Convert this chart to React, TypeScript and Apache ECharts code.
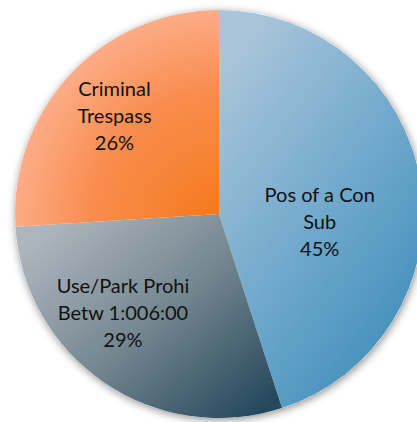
import React, { useEffect, useRef } from "react";
import * as echarts from "echarts";

const categories = ["Pos of a Con Sub", "Use/Park Prohi Betw 1:006:00", "Criminal Trespass"];
const labelLines = ["Pos of a Con\nSub", "Use/Park Prohi\nBetw 1:006:00", "Criminal\nTrespass"];
const values = [45, 29, 26];

const fills = [
  {
    type: "linear", x: 0.2, y: 0, x2: 0.9, y2: 1,
    colorStops: [
      { offset: 0, color: "#aac5d9" },
      { offset: 0.5, color: "#6fa8cc" },
      { offset: 1, color: "#3789b6" },
    ],
  },
  {
    type: "linear", x: 0, y: 0.2, x2: 0.9, y2: 1,
    colorStops: [
      { offset: 0, color: "#aeb6bd" },
      { offset: 0.5, color: "#748690" },
      { offset: 1, color: "#25475c" },
    ],
  },
  {
    type: "radial", x: 1, y: 1, r: 1.15,
    colorStops: [
      { offset: 0, color: "#f47818" },
      { offset: 0.55, color: "#f98d4f" },
      { offset: 1, color: "#fdb89c" },
    ],
  },
];

const labelShift = [
  [-3, 23],
  [-37, 11],
  [-28, -27],
];

export default function App() {
  const ref = useRef<HTMLDivElement>(null);
  useEffect(() => {
    const chart = echarts.init(ref.current!, null, { renderer: "svg" });
    chart.setOption({
      animation: false,
      backgroundColor: "#ffffff",
      series: [
        {
          type: "pie",
          silent: true,
          center: [219, 214],
          radius: 204,
          z: 1,
          label: { show: false },
          labelLine: { show: false },
          itemStyle: {
            color: "#ffffff",
            shadowBlur: 9,
            shadowColor: "rgba(0,0,0,0.45)",
            shadowOffsetX: 1,
            shadowOffsetY: 2,
          },
          data: [{ value: 1, name: "" }],
        },
        {
          type: "pie",
          center: [219, 214],
          radius: 204,
          startAngle: 90,
          clockwise: true,
          z: 2,
          percentPrecision: 0,
          itemStyle: { borderWidth: 0 },
          label: {
            show: true,
            position: "inside",
            color: "#111111",
            fontFamily: "Lato",
            fontSize: 20,
            lineHeight: 27,
            align: "center",
            formatter: (p: any) => `${labelLines[p.dataIndex]}\n${Math.round(p.percent)}%`,
          },
          labelLine: { show: false },
          labelLayout: (p: any) => ({
            dx: labelShift[p.dataIndex][0],
            dy: labelShift[p.dataIndex][1],
          }),
          data: categories.map((name, i) => ({
            name,
            value: values[i],
            itemStyle: { color: fills[i] },
          })),
        },
      ],
    });
    return () => chart.dispose();
  }, []);
  return (
    <div
      ref={ref}
      style={{ position: "fixed", left: 0, top: 0, width: 417, height: 422 }}
    />
  );
}
